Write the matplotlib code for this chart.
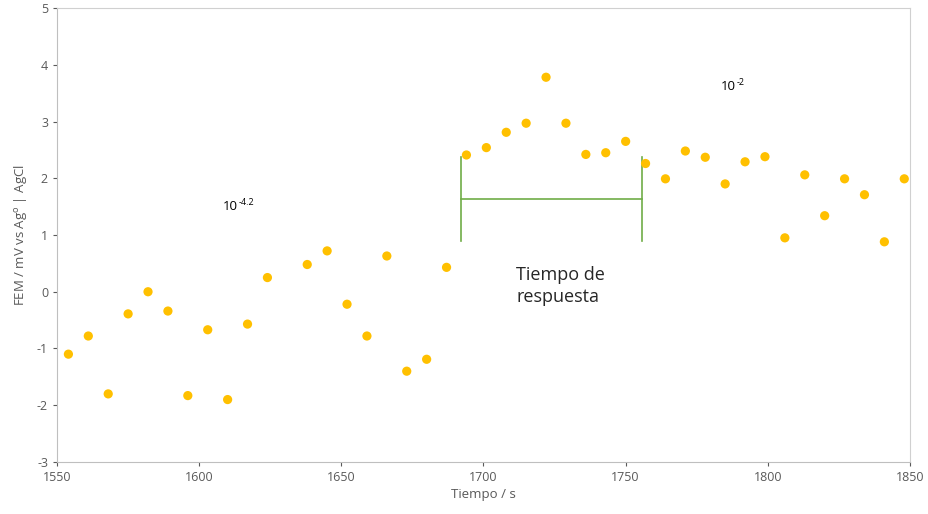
import matplotlib

matplotlib.use("Agg")
import matplotlib.pyplot as plt
import numpy as np

plt.rcParams["font.family"] = ["Open Sans", "DejaVu Sans"]
plt.rcParams["axes.unicode_minus"] = False

# tiempo (s) y FEM (mV); falta el punto de 1631 s
tiempo = [1554, 1561, 1568, 1575, 1582, 1589, 1596, 1603, 1610, 1617, 1624,
          1638, 1645, 1652, 1659, 1666, 1673, 1680, 1687, 1694, 1701, 1708,
          1715, 1722, 1729, 1736, 1743, 1750, 1757, 1764, 1771, 1778, 1785,
          1792, 1799, 1806, 1813, 1820, 1827, 1834, 1841, 1848]
fem = [-1.10, -0.78, -1.80, -0.39, 0.00, -0.34, -1.83, -0.67, -1.90, -0.57, 0.25,
       0.48, 0.72, -0.22, -0.78, 0.63, -1.40, -1.19, 0.43, 2.41, 2.54, 2.81,
       2.97, 3.78, 2.97, 2.42, 2.45, 2.65, 2.26, 1.99, 2.48, 2.37, 1.90,
       2.29, 2.38, 0.95, 2.06, 1.34, 1.99, 1.71, 0.88, 1.99]

# corchete del tiempo de respuesta
t_inicio, t_fin = 1692.1, 1755.7
y_bajo, y_alto, y_medio = 0.89, 2.38, 1.63

# etiquetas de concentracion: (x, y, exponente)
concentraciones = [(1608.4, 1.5, "-4.2"), (1783.5, 3.62, "-2")]

x_ticks = np.arange(1550, 1851, 50)
y_ticks = np.arange(-3, 6, 1)

GRIS = "#595959"

fig = plt.figure(figsize=(9.29, 5.14), dpi=100)
ax = fig.add_axes([0.0614, 0.1012, 0.9181, 0.8832])

ax.scatter(tiempo, fem, s=44, color="#FFC000", edgecolors="none", zorder=3)

verde = "#70AD47"
ax.plot([t_inicio, t_inicio], [y_bajo, y_alto], color=verde, lw=1.2)
ax.plot([t_fin, t_fin], [y_bajo, y_alto], color=verde, lw=1.2)
ax.plot([t_inicio, t_fin], [y_medio, y_medio], color=verde, lw=1.2)

ax.text(1711.5, 0.45, "Tiempo de\nrespuesta", fontsize=13, color="#262626",
        va="top", ha="left", linespacing=1.25)

for x, y, exp in concentraciones:
    ax.text(x, y, "10", fontsize=9.5, color="black", va="center", ha="left")
    ax.annotate(exp, (x, y), xytext=(11.5, 3), textcoords="offset points",
                fontsize=6.5, color="black", va="center", ha="left")

ax.set_xlim(1550, 1850)
ax.set_ylim(-3, 5)
ax.set_xticks(x_ticks)
ax.set_yticks(y_ticks)
ax.tick_params(labelsize=9, colors=GRIS, length=3, width=0.8)

for lado in ["top", "right"]:
    ax.spines[lado].set_color("#D0D0D0")
for lado in ["left", "bottom"]:
    ax.spines[lado].set_color("#BFBFBF")

ax.set_xlabel("Tiempo / s", fontsize=9.5, color=GRIS, labelpad=3)
ax.set_ylabel("FEM / mV vs Ag$^{\\mathregular{o}}$ | AgCl", fontsize=9.5,
              color=GRIS, labelpad=6)

fig.savefig("out.png", dpi=100)
